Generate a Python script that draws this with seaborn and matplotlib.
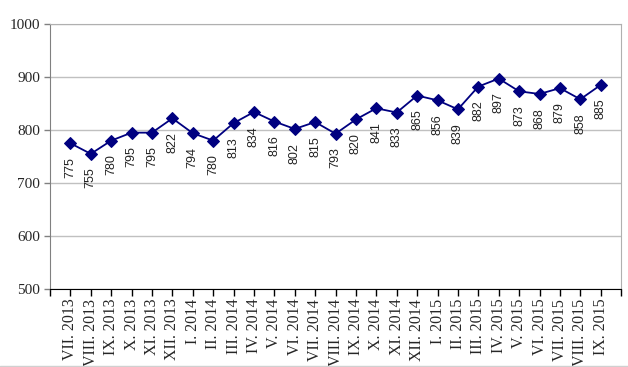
import numpy as np
import pandas as pd
import matplotlib
matplotlib.use("Agg")
import matplotlib.pyplot as plt
import seaborn as sns

# ==================== DATA ====================
MONTHS = ['VII. 2013', 'VIII. 2013', 'IX. 2013', 'X. 2013', 'XI. 2013', 'XII. 2013',
          'I. 2014', 'II. 2014', 'III. 2014', 'IV. 2014', 'V. 2014', 'VI. 2014',
          'VII. 2014', 'VIII. 2014', 'IX. 2014', 'X. 2014', 'XI. 2014', 'XII. 2014',
          'I. 2015', 'II. 2015', 'III. 2015', 'IV. 2015', 'V. 2015', 'VI. 2015',
          'VII. 2015', 'VIII. 2015', 'IX. 2015']
VALUES = [775, 755, 780, 795, 795, 822, 794, 780, 813, 834, 816, 802, 815, 793,
          820, 841, 833, 865, 856, 839, 882, 897, 873, 868, 879, 858, 885]
Y_TICKS = [500, 600, 700, 800, 900, 1000]

df = pd.DataFrame({'month': MONTHS, 'value': VALUES})
df['pos'] = np.arange(len(df))

# ==================== PLOT ====================
sns.set_style('white')
plt.rcParams['font.family'] = ['Liberation Serif', 'DejaVu Serif']

fig = plt.figure(figsize=(6.28, 3.67), dpi=100)
ax = fig.add_axes([0.0796, 0.2125, 0.9094, 0.7221])

NAVY = '#000080'
sns.lineplot(data=df, x='pos', y='value', ax=ax, color=NAVY, linewidth=1.3,
             marker='D', markersize=6, markeredgecolor=NAVY, markerfacecolor=NAVY)

for _, row in df.iterrows():
    ax.annotate(str(row['value']), (row['pos'], row['value']),
                xytext=(0, -10), textcoords='offset points',
                rotation=90, ha='center', va='top', fontsize=9,
                family=['Liberation Sans', 'DejaVu Sans'], color='#222222')

ax.set_xlim(-1, len(df))
ax.set_ylim(500, 1000)
ax.set_yticks(Y_TICKS)
ax.set_yticklabels([str(t) for t in Y_TICKS], fontsize=11)
ax.set_xticks(df['pos'])
ax.set_xticklabels(df['month'], rotation=90, fontsize=11.5)
ax.set_xticks([-1, len(df)], minor=True)
ax.set_xlabel('')
ax.set_ylabel('')

ax.yaxis.grid(True, color='#c0c0c0', linewidth=1)
ax.set_axisbelow(True)

for side in ['top', 'right']:
    ax.spines[side].set_color('#b0b0b0')
ax.spines['left'].set_color('#808080')
ax.spines['bottom'].set_color('black')

ax.tick_params(axis='x', which='both', direction='out', length=5, width=1,
               color='black', bottom=True, pad=2)
ax.tick_params(axis='y', direction='out', length=4, width=1, color='#808080',
               left=True, pad=3)

# chart border line at the bottom
fig.add_artist(plt.Line2D([0, 1], [0.004, 0.004], color='#d0d0d0', linewidth=1))

plt.savefig('out.png', dpi=100)
